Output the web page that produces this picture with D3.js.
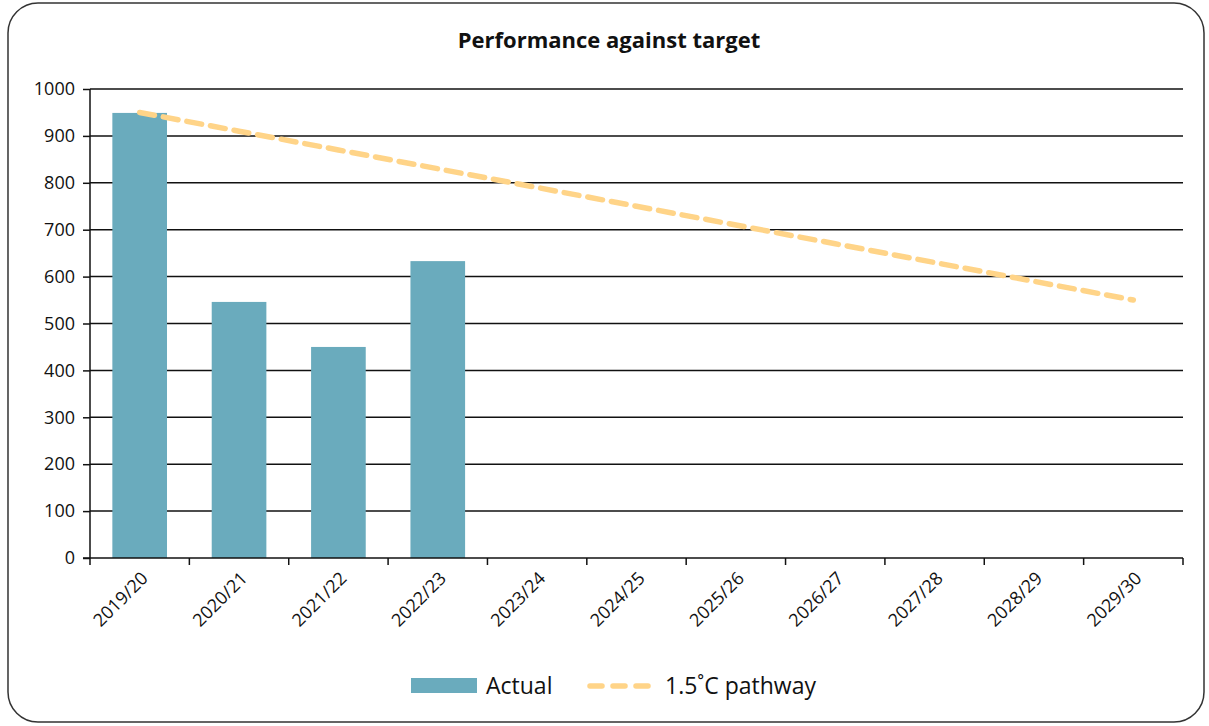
<!DOCTYPE html>
<html>
<head>
<meta charset="utf-8">
<script src="https://cdn.jsdelivr.net/npm/d3@7"></script>
<style>
  body { margin: 0; background: #fff; }
  text { font-family: "Open Sans", "Noto Sans", sans-serif; fill: #111; }
</style>
</head>
<body>
<svg id="chart" width="1209" height="726"></svg>
<script>
var categories = ["2019/20", "2020/21", "2021/22", "2022/23", "2023/24", "2024/25", "2025/26", "2026/27", "2027/28", "2028/29", "2029/30"];
var actual = [949, 546, 450, 633];
var pathway = [950, 910, 870, 830, 790, 750, 710, 670, 630, 590, 550];
var yTicks = [0, 100, 200, 300, 400, 500, 600, 700, 800, 900, 1000];

var colors = { bar: "#6aabbd", line: "#ffd488" };
var width = 1209, height = 726;
var margin = { left: 90, right: 26, top: 89, bottom: 168 };

var svg = d3.select("#chart");

// outer frame
svg.append("rect")
    .attr("x", 8).attr("y", 3)
    .attr("width", 1196).attr("height", 719)
    .attr("rx", 30).attr("ry", 30)
    .style("fill", "none")
    .style("stroke", "#333")
    .style("stroke-width", 1.5);

svg.append("text")
    .attr("x", 609)
    .attr("y", 48)
    .attr("text-anchor", "middle")
    .style("font-size", "22px")
    .style("font-weight", "bold")
    .text("Performance against target");

var x = d3.scaleBand()
    .domain(categories)
    .range([margin.left, width - margin.right])
    .paddingInner(0.45)
    .paddingOuter(0.225);

var xEdge = d3.scaleLinear()
    .domain([0, categories.length])
    .range([margin.left, width - margin.right]);

var y = d3.scaleLinear()
    .domain([0, 1000])
    .range([height - margin.bottom, margin.top]);

// gridlines
svg.append("g")
    .selectAll("line")
    .data(yTicks.filter(function(d) { return d > 0; }))
    .enter()
    .append("line")
    .attr("x1", margin.left)
    .attr("x2", width - margin.right)
    .attr("y1", function(d) { return y(d); })
    .attr("y2", function(d) { return y(d); })
    .style("stroke", "#111")
    .style("stroke-width", 1.5);

// bars
svg.append("g")
    .selectAll("rect")
    .data(actual)
    .enter()
    .append("rect")
    .attr("x", function(d, i) { return x(categories[i]); })
    .attr("width", x.bandwidth())
    .attr("y", function(d) { return y(d); })
    .attr("height", function(d) { return y(0) - y(d); })
    .style("fill", colors.bar);

// y axis
var yAxis = svg.append("g")
    .attr("transform", "translate(" + margin.left + ",0)")
    .call(d3.axisLeft(y).tickValues(yTicks).tickFormat(d3.format("d")).tickSize(7).tickPadding(8));
yAxis.attr("font-size", 18).attr("font-family", "'Open Sans', sans-serif");
yAxis.select(".domain").style("stroke", "#111").style("stroke-width", 1.5).attr("d", "M0," + y(0) + "V" + y(1000));
yAxis.selectAll(".tick line").style("stroke", "#111").style("stroke-width", 1.5);
yAxis.selectAll("text").style("font-size", "18px").attr("fill", "#111");

// x axis baseline and ticks at category edges
svg.append("line")
    .attr("x1", margin.left - 7)
    .attr("x2", width - margin.right)
    .attr("y1", y(0)).attr("y2", y(0))
    .style("stroke", "#111").style("stroke-width", 1.5);

svg.append("g")
    .selectAll("line")
    .data(d3.range(categories.length + 1))
    .enter()
    .append("line")
    .attr("x1", function(d) { return xEdge(d); })
    .attr("x2", function(d) { return xEdge(d); })
    .attr("y1", y(0))
    .attr("y2", y(0) + 7)
    .style("stroke", "#111").style("stroke-width", 1.5);

svg.append("g")
    .selectAll("text")
    .data(categories)
    .enter()
    .append("text")
    .attr("transform", function(d) {
        return "translate(" + (x(d) + x.bandwidth() / 2 + 5) + "," + (y(0) + 17) + ") rotate(-45)";
    })
    .attr("text-anchor", "end")
    .attr("dy", "0.35em")
    .style("font-size", "18px")
    .text(function(d) { return d; });

// pathway line
var line = d3.line()
    .x(function(d, i) { return x(categories[i]) + x.bandwidth() / 2; })
    .y(function(d) { return y(d); });

svg.append("path")
    .datum(pathway)
    .attr("d", line)
    .style("fill", "none")
    .style("stroke", colors.line)
    .style("stroke-width", 5.5)
    .style("stroke-dasharray", "15,9")
    .style("stroke-linecap", "round");

// legend
var legend = svg.append("g");
legend.append("rect")
    .attr("x", 411).attr("y", 678)
    .attr("width", 66).attr("height", 15)
    .style("fill", colors.bar);
legend.append("text")
    .attr("x", 486).attr("y", 694)
    .style("font-size", "23px")
    .text("Actual");
legend.append("line")
    .attr("x1", 590).attr("x2", 649)
    .attr("y1", 686).attr("y2", 686)
    .style("stroke", colors.line)
    .style("stroke-width", 5.5)
    .style("stroke-dasharray", "12,11")
    .style("stroke-linecap", "round");
legend.append("text")
    .attr("x", 665).attr("y", 694)
    .style("font-size", "23px")
    .text("1.5˚C pathway");
</script>
</body>
</html>
